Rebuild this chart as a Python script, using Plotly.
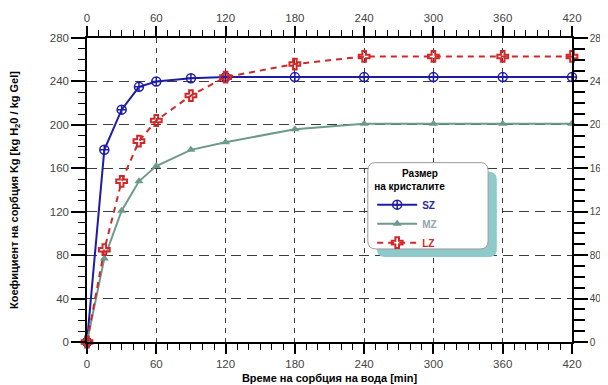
import plotly.graph_objects as go

time_min = [0, 15, 30, 45, 60, 90, 120, 180, 240, 300, 360, 420]
sz_vals = [0, 177, 214, 235, 240, 243, 244, 244, 244, 244, 244, 244]
mz_vals = [0, 77, 121, 148, 162, 177, 184, 196, 201, 201, 201, 201]
lz_vals = [0, 85, 148, 185, 204, 227, 244, 256, 263, 263, 263, 263]
x_ticks = [0, 60, 120, 180, 240, 300, 360, 420]
y_ticks = [0, 40, 80, 120, 160, 200, 240, 280]

FONT = "Liberation Sans, Arial, sans-serif"
SZ_C = "#1c1ca6"
MZ_C = "#6d9a8a"
LZ_C = "#d02828"

fig = go.Figure()
fig.add_trace(go.Scatter(
    x=time_min, y=sz_vals, mode="lines+markers",
    name="<b><span style='color:#2a2aa8'>SZ</span></b>",
    line=dict(color=SZ_C, width=2),
    marker=dict(symbol="circle-cross-open", size=9, color=SZ_C, line=dict(width=1.5)),
    cliponaxis=False))
fig.add_trace(go.Scatter(
    x=time_min, y=mz_vals, mode="lines+markers",
    name="<b><span style='color:#93a6b0'>MZ</span></b>",
    line=dict(color=MZ_C, width=2),
    marker=dict(symbol="triangle-up", size=8, color=MZ_C),
    cliponaxis=False))
fig.add_trace(go.Scatter(
    x=time_min, y=lz_vals, mode="lines+markers",
    name="<b><span style='color:#d02828'>LZ</span></b>",
    line=dict(color=LZ_C, width=2, dash="6px,5px"),
    marker=dict(symbol="cross-open", size=9, color=LZ_C, line=dict(width=2)),
    cliponaxis=False))
# carrier for top/right axes
fig.add_trace(go.Scatter(
    x=time_min, y=sz_vals, xaxis="x2", yaxis="y2", mode="lines",
    opacity=0, showlegend=False, hoverinfo="skip"))

tickfont = dict(family=FONT, size=11.5, color="#444")
common_x = dict(range=[0, 420], tickvals=x_ticks, showline=True, linecolor="black",
                linewidth=1.5, ticks="outside", tickcolor="black", tickwidth=1.5,
                tickfont=tickfont, zeroline=False, automargin=False)
common_y = dict(range=[0, 280], tickvals=y_ticks, showline=True, linecolor="black",
                linewidth=1.5, ticks="outside", tickcolor="black", tickwidth=1.5,
                zeroline=False, automargin=False)

# page body has an 8px margin, so shift the figure margins accordingly
fig.update_layout(
    width=608, height=393,
    margin=dict(l=79, r=44, t=30, b=59),
    paper_bgcolor="white", plot_bgcolor="white",
    font=dict(family=FONT, color="black"),
    xaxis=dict(**common_x, ticklen=10,
               minor=dict(dtick=10, ticks="outside", ticklen=6, tickcolor="black", tickwidth=1.2, showgrid=False),
               showgrid=True, gridcolor="#3a3a3a", gridwidth=1.3, griddash="5px,5px",
               title=dict(text="<b>Време на сорбция на вода [min]</b>",
                          font=dict(family=FONT, size=11), standoff=6)),
    xaxis2=dict(**common_x, overlaying="x", side="top", matches="x", ticklen=10,
                minor=dict(dtick=10, ticks="outside", ticklen=6, tickcolor="black", tickwidth=1.2, showgrid=False),
                showgrid=False),
    yaxis=dict(**common_y, ticklen=14, tickfont=tickfont,
               minor=dict(dtick=10, ticks="outside", ticklen=7, tickcolor="black", tickwidth=1.2, showgrid=False),
               showgrid=True, gridcolor="#3a3a3a", gridwidth=1.3, griddash="10px,6px",
               title=dict(text="<b>Коефициент на сорбция Kg [kg H<sub>2</sub>0 / kg Gel]</b>",
                          font=dict(family=FONT, size=11), standoff=30)),
    yaxis2=dict(**common_y, overlaying="y", side="right", matches="y", ticklen=14,
                tickfont=dict(family=FONT, size=10, color="#444"),
                minor=dict(dtick=10, ticks="outside", ticklen=11, tickcolor="black", tickwidth=1.5, showgrid=False),
                showgrid=False),
    legend=dict(
        x=0.588, y=0.585, xanchor="left", yanchor="top",
        bgcolor="rgba(0,0,0,0)", borderwidth=0,
        title=dict(text="<b>&nbsp;&nbsp;&nbsp;&nbsp;&nbsp;&nbsp;&nbsp;&nbsp;&nbsp;&nbsp;Размер<br>на кристалите</b>", side="top",
                   font=dict(family=FONT, size=10, color="black")),
        font=dict(family=FONT, size=10),
        tracegroupgap=0, itemwidth=40,
    ),
)


def rounded_rect(x0, y0, x1, y1, rpx=8, W=485, H=304):
    rx, ry = rpx / W, rpx / H
    return (f"M {x0+rx},{y0} L {x1-rx},{y0} Q {x1},{y0} {x1},{y0+ry} "
            f"L {x1},{y1-ry} Q {x1},{y1} {x1-rx},{y1} L {x0+rx},{y1} "
            f"Q {x0},{y1} {x0},{y1-ry} L {x0},{y0+ry} Q {x0},{y0} {x0+rx},{y0} Z")


fig.add_shape(type="path", xref="paper", yref="paper",
              path=rounded_rect(0.598, 0.280, 0.845, 0.560),
              fillcolor="#8ecaca", line=dict(width=0), layer="above")
fig.add_shape(type="path", xref="paper", yref="paper",
              path=rounded_rect(0.579, 0.306, 0.827, 0.590),
              fillcolor="white", line=dict(color="#9a9a9a", width=1), layer="above")

fig.write_html("out.html")
